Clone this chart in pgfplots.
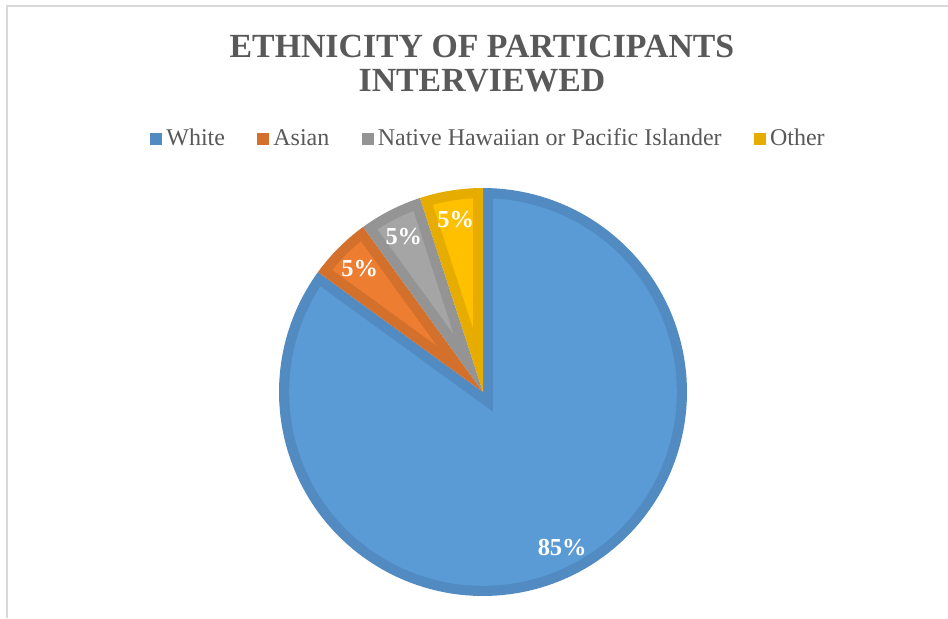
\documentclass[border=0pt]{standalone}
\usepackage{pgfplots}
\usepackage{pgfplotstable}
\pgfplotsset{compat=1.18}
\usepackage{fontspec}
\setmainfont{Liberation Serif}
\definecolor{txt}{HTML}{595959}
\definecolor{frame}{HTML}{D9D9D9}
\definecolor{wL}{HTML}{5B9BD5}\definecolor{wD}{HTML}{518BC2}
\definecolor{aL}{HTML}{ED7D31}\definecolor{aD}{HTML}{D3702C}
\definecolor{gL}{HTML}{A5A5A5}\definecolor{gD}{HTML}{949494}
\definecolor{oL}{HTML}{FFC000}\definecolor{oD}{HTML}{E6AD00}
% Ethnicity shares (percent)
\pgfplotstableread{
group value
White 85
Asian 5
Hawaiian 5
Other 5
}\ethnicity
\begin{document}
\begin{tikzpicture}
\path[use as bounding box, fill=white] (0,0) rectangle (474pt,309pt);
\draw[frame, line width=1pt] (3.3pt,0) -- (3.3pt,305.8pt) -- (474pt,305.8pt);
% angles from the values (clockwise from 12 o'clock)
\pgfmathsetmacro{\vW}{85}\pgfmathsetmacro{\vA}{5}\pgfmathsetmacro{\vG}{5}\pgfmathsetmacro{\vO}{5}
\pgfmathsetmacro{\aW}{90}
\pgfmathsetmacro{\aA}{\aW-3.6*\vW}
\pgfmathsetmacro{\aG}{\aA-3.6*\vA}
\pgfmathsetmacro{\aO}{\aG-3.6*\vG}
\pgfmathsetmacro{\aE}{\aO-3.6*\vO}
\pgfmathsetmacro{\bw}{0.05}
\pgfmathsetmacro{\Ri}{1-\bw}
\pgfmathsetmacro{\dl}{asin(\bw/\Ri)}
% inner apex and arc limits for each slice
\pgfmathsetmacro{\wM}{(\aW+\aA)/2}\pgfmathsetmacro{\wR}{\bw/sin((\aW-\aA)/2)}
\pgfmathsetmacro{\wX}{\wR*cos(\wM)}\pgfmathsetmacro{\wY}{\wR*sin(\wM)}
\pgfmathsetmacro{\wS}{\aA+\dl}\pgfmathsetmacro{\wE}{\aW-\dl}
\pgfmathsetmacro{\xM}{(\aA+\aG)/2}\pgfmathsetmacro{\xR}{\bw/sin((\aA-\aG)/2)}
\pgfmathsetmacro{\xX}{\xR*cos(\xM)}\pgfmathsetmacro{\xY}{\xR*sin(\xM)}
\pgfmathsetmacro{\xS}{\aG+\dl}\pgfmathsetmacro{\xE}{\aA-\dl}
\pgfmathsetmacro{\gM}{(\aG+\aO)/2}\pgfmathsetmacro{\gR}{\bw/sin((\aG-\aO)/2)}
\pgfmathsetmacro{\gX}{\gR*cos(\gM)}\pgfmathsetmacro{\gY}{\gR*sin(\gM)}
\pgfmathsetmacro{\gS}{\aO+\dl}\pgfmathsetmacro{\gE}{\aG-\dl}
\pgfmathsetmacro{\oM}{(\aO+\aE)/2}\pgfmathsetmacro{\oR}{\bw/sin((\aO-\aE)/2)}
\pgfmathsetmacro{\oX}{\oR*cos(\oM)}\pgfmathsetmacro{\oY}{\oR*sin(\oM)}
\pgfmathsetmacro{\oS}{\aE+\dl}\pgfmathsetmacro{\oE}{\aO-\dl}
\begin{axis}[
  at={(241.5pt,113pt)}, anchor=center,
  scale only axis, width=204pt, height=204pt,
  xmin=-1, xmax=1, ymin=-1, ymax=1,
  hide axis, clip=false,
  legend columns=4,
  legend style={at={(0.516,1.12)}, anchor=center, draw=none, fill=none,
    font=\fontsize{12}{14}\selectfont, text=txt,
    /tikz/every even column/.append style={column sep=14.2pt}},
  legend image code/.code={\fill[#1] (0pt,-3.2pt) rectangle (6pt,2.8pt);},
]
% White
\addplot[draw=none, fill=wD, domain=\aA:\aW, samples=150] ({cos(x)},{sin(x)}) -- (axis cs:0,0) -- cycle;
\addlegendentry{White}
\addplot[forget plot, draw=none, fill=wL, domain=\wS:\wE, samples=150] ({\Ri*cos(x)},{\Ri*sin(x)}) -- (axis cs:\wX,\wY) -- cycle;
% Asian
\addplot[draw=none, fill=aD, domain=\aG:\aA, samples=20] ({cos(x)},{sin(x)}) -- (axis cs:0,0) -- cycle;
\addlegendentry{Asian}
\addplot[forget plot, draw=none, fill=aL, domain=\xS:\xE, samples=20] ({\Ri*cos(x)},{\Ri*sin(x)}) -- (axis cs:\xX,\xY) -- cycle;
% Native Hawaiian or Pacific Islander
\addplot[draw=none, fill=gD, domain=\aO:\aG, samples=20] ({cos(x)},{sin(x)}) -- (axis cs:0,0) -- cycle;
\addlegendentry{Native Hawaiian or Pacific Islander}
\addplot[forget plot, draw=none, fill=gL, domain=\gS:\gE, samples=20] ({\Ri*cos(x)},{\Ri*sin(x)}) -- (axis cs:\gX,\gY) -- cycle;
% Other
\addplot[draw=none, fill=oD, domain=\aE:\aO, samples=20] ({cos(x)},{sin(x)}) -- (axis cs:0,0) -- cycle;
\addlegendentry{Other}
\addplot[forget plot, draw=none, fill=oL, domain=\oS:\oE, samples=20] ({\Ri*cos(x)},{\Ri*sin(x)}) -- (axis cs:\oX,\oY) -- cycle;
% labels
\pgfmathsetmacro{\lr}{0.855}
\node[text=white, font=\bfseries\fontsize{12.2}{13}\selectfont] at (axis cs:{\lr*cos(\wM)},{\lr*sin(\wM)}) {85\%};
\node[text=white, font=\bfseries\fontsize{12.2}{13}\selectfont] at (axis cs:{\lr*cos(\xM)},{\lr*sin(\xM)}) {5\%};
\node[text=white, font=\bfseries\fontsize{12.2}{13}\selectfont] at (axis cs:{\lr*cos(\gM)},{\lr*sin(\gM)}) {5\%};
\node[text=white, font=\bfseries\fontsize{12.2}{13}\selectfont] at (axis cs:{\lr*cos(\oM)},{\lr*sin(\oM)}) {5\%};
\end{axis}
\node[anchor=base, text=txt, font=\bfseries\fontsize{16.9}{17}\selectfont] at (241pt,280.5pt) {ETHNICITY OF PARTICIPANTS};
\node[anchor=base, text=txt, font=\bfseries\fontsize{16.9}{17}\selectfont] at (241pt,263.5pt) {INTERVIEWED};
\end{tikzpicture}
\end{document}
